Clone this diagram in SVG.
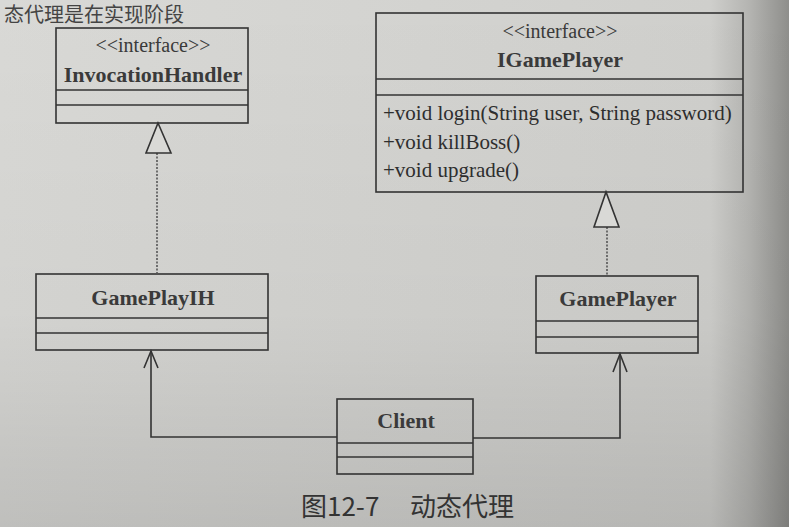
<svg xmlns="http://www.w3.org/2000/svg" width="789" height="527" viewBox="0 0 789 527">
<defs>
<linearGradient id="bg" x1="0" y1="0" x2="1" y2="0">
<stop offset="0" stop-color="#d9d9d6"/>
<stop offset="0.9" stop-color="#cfcfcc"/>
<stop offset="0.95" stop-color="#b4b4b1"/>
<stop offset="1" stop-color="#8e8e8b"/>
</linearGradient>
<linearGradient id="shade" x1="0" y1="0" x2="0" y2="1">
<stop offset="0" stop-color="#000" stop-opacity="0"/>
<stop offset="0.6" stop-color="#000" stop-opacity="0.03"/>
<stop offset="1" stop-color="#000" stop-opacity="0.12"/>
</linearGradient>
</defs>
<style>
.box{fill:none;stroke:#333;stroke-width:1.6}
.sep{stroke:#333;stroke-width:1.6}
.st{font-family:"Liberation Serif","Times New Roman",serif;font-size:20px;fill:#3a3a3a;text-anchor:middle}
.nm{font-family:"Liberation Serif","Times New Roman",serif;font-size:22px;font-weight:bold;fill:#3a3a3a;text-anchor:middle}
.mt{font-family:"Liberation Serif","Times New Roman",serif;font-size:21px;fill:#2e2e2e}
.cap{font-family:"Noto Sans CJK SC","Noto Sans",sans-serif;font-size:26px;fill:#333}
.top{font-family:"Noto Sans CJK SC","Noto Sans",sans-serif;font-size:20px;fill:#444}
.conn{fill:none;stroke:#333;stroke-width:1.6}
.head{fill:none;stroke:#333;stroke-width:1.6}
.dash{fill:none;stroke:#555;stroke-width:1.6;stroke-dasharray:2 1.5}
.tri{fill:#d9d9d6;stroke:#333;stroke-width:1.6}
</style>
<rect width="789" height="527" fill="url(#bg)"/>
<rect width="789" height="527" fill="url(#shade)"/>
<text class="top" x="4" y="22">态代理是在实现阶段</text>

<g id="InvocationHandler">
<rect class="box" x="56" y="28" width="192" height="95"/>
<line class="sep" x1="56" y1="90" x2="248" y2="90"/>
<line class="sep" x1="56" y1="105" x2="248" y2="105"/>
<text class="st" x="153" y="52">&lt;&lt;interface&gt;&gt;</text>
<text class="nm" x="153" y="82">InvocationHandler</text>
</g>

<g id="IGamePlayer">
<rect class="box" x="376" y="13" width="367" height="179"/>
<line class="sep" x1="376" y1="79" x2="743" y2="79"/>
<line class="sep" x1="376" y1="95" x2="743" y2="95"/>
<text class="st" x="560" y="38">&lt;&lt;interface&gt;&gt;</text>
<text class="nm" x="560" y="67">IGamePlayer</text>
<text class="mt" x="383" y="120">+void login(String user, String password)</text>
<text class="mt" x="383" y="149">+void killBoss()</text>
<text class="mt" x="383" y="177">+void upgrade()</text>
</g>

<g id="GamePlayIH">
<rect class="box" x="36" y="274" width="232" height="76"/>
<line class="sep" x1="36" y1="318" x2="268" y2="318"/>
<line class="sep" x1="36" y1="333" x2="268" y2="333"/>
<text class="nm" x="153" y="305">GamePlayIH</text>
</g>

<g id="GamePlayer">
<rect class="box" x="536" y="276" width="162" height="77"/>
<line class="sep" x1="536" y1="321" x2="698" y2="321"/>
<line class="sep" x1="536" y1="337" x2="698" y2="337"/>
<text class="nm" x="618" y="306">GamePlayer</text>
</g>

<g id="Client">
<rect class="box" x="337" y="399" width="136" height="75"/>
<line class="sep" x1="337" y1="443" x2="473" y2="443"/>
<line class="sep" x1="337" y1="457" x2="473" y2="457"/>
<text class="nm" x="406" y="428">Client</text>
</g>

<g id="connectors">
<line class="dash" x1="157" y1="153" x2="157" y2="274"/>
<polygon class="tri" points="158,123 146,153 171,153"/>
<line class="dash" x1="607" y1="227" x2="607" y2="276"/>
<polygon class="tri" points="606,192 594,227 619,227"/>
<polyline class="conn" points="337,437 151,437 151,351"/>
<polyline class="head" points="144,368 151,351 158,368"/>
<polyline class="conn" points="473,438 620,438 620,354"/>
<polyline class="head" points="613,372 620,354 627,372"/>
</g>

<text class="cap" x="301" y="516">图12-7</text>
<text class="cap" x="410" y="516">动态代理</text>
</svg>
